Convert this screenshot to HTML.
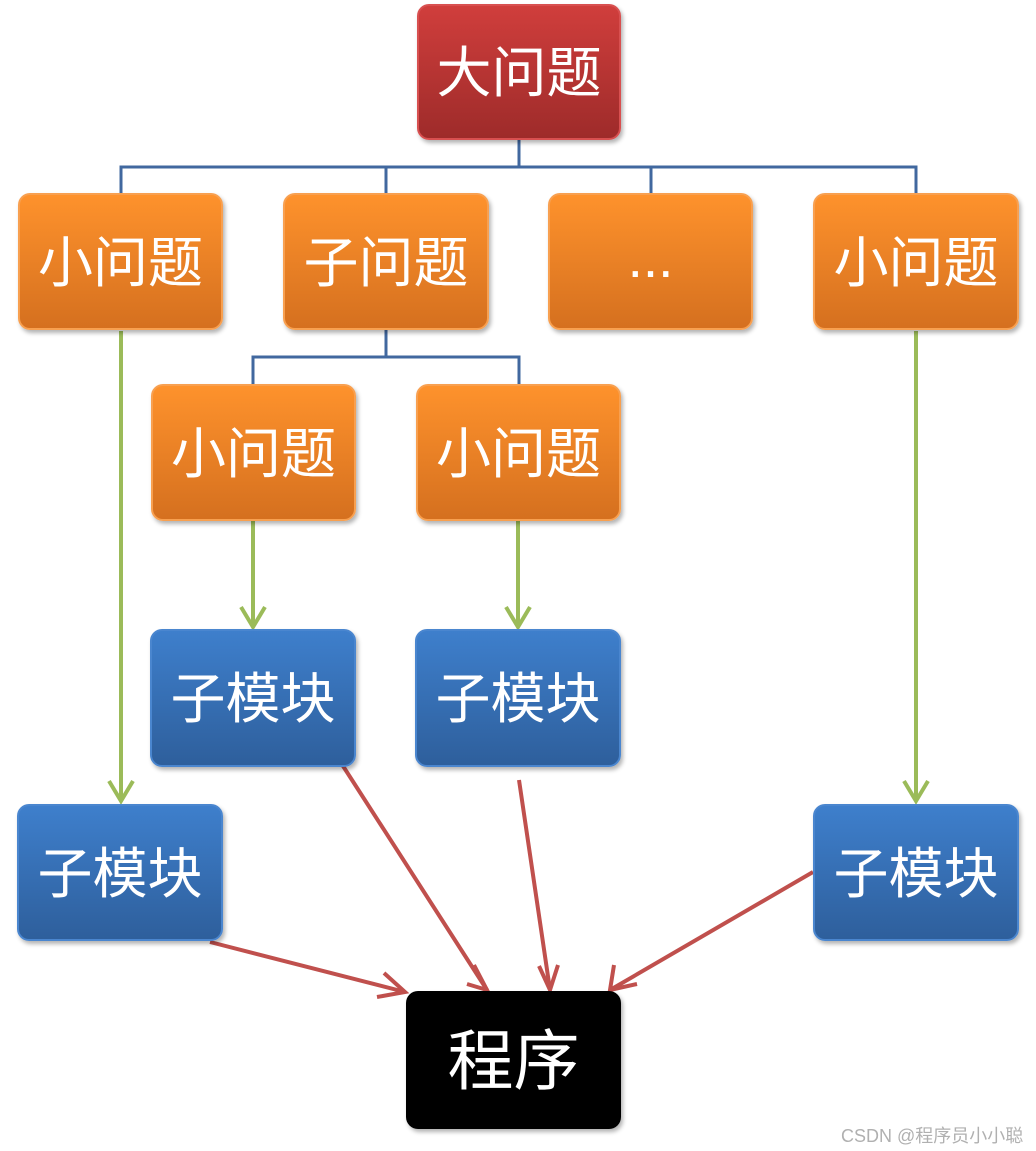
<!DOCTYPE html>
<html><head><meta charset="utf-8"><style>
body{margin:0;width:1036px;height:1151px;background:#fff;position:relative;overflow:hidden;font-family:"Liberation Sans","Noto Sans CJK SC",sans-serif}
.b{position:absolute;border-radius:12px;color:#fff;display:flex;align-items:center;justify-content:center;font-size:55px;box-shadow:2px 3px 4px rgba(0,0,0,.3);box-sizing:border-box;padding-bottom:8px}
.o{background:linear-gradient(#fe922c,#d5701f);border:2px solid #f8a050}
.u{background:linear-gradient(#3e7fcc,#2e5f9c);border:2px solid #4a86cf}
.r{background:linear-gradient(#d03e3c,#9e2b2a);border:2px solid #d85050}
svg{position:absolute;left:0;top:0}
</style></head><body>
<svg width="1036" height="1151">
<g stroke="#41689f" stroke-width="3" fill="none">
<path d="M519 139V167M121 194V167H916V194M386 167V194M651 167V194"/>
<path d="M386 329V357M253 385V357H519V385"/>
</g>
<g stroke="#9bbb59" stroke-width="4" fill="none">
<path d="M121 331V801M253 521V627M518 521V627M916 331V801"/>
<path d="M109 781L121 801L133 781M241 607L253 627L265 607M506 607L518 627L530 607M904 781L916 801L928 781"/>
</g>
<g stroke="#c0504d" stroke-width="4" fill="none">
<path d="M210 942L405 992M343 766L487 990M519 780L550 990M813 872L610 990"/>
<path d="M384 973L405 992L377 997M474 965L487 990L467 984M539 966L550 990L558 965M614 965L610 990L637 984"/>
</g>
</svg>
<div class="b r" style="left:417px;top:4px;width:204px;height:136px">大问题</div>
<div class="b o" style="left:18px;top:193px;width:205px;height:137px">小问题</div>
<div class="b o" style="left:283px;top:193px;width:206px;height:137px">子问题</div>
<div class="b o" style="left:548px;top:193px;width:205px;height:137px">...</div>
<div class="b o" style="left:813px;top:193px;width:206px;height:137px">小问题</div>
<div class="b o" style="left:151px;top:384px;width:205px;height:137px">小问题</div>
<div class="b o" style="left:416px;top:384px;width:205px;height:137px">小问题</div>
<div class="b u" style="left:150px;top:629px;width:206px;height:138px">子模块</div>
<div class="b u" style="left:415px;top:629px;width:206px;height:138px">子模块</div>
<div class="b u" style="left:17px;top:804px;width:206px;height:137px">子模块</div>
<div class="b u" style="left:813px;top:804px;width:206px;height:137px">子模块</div>
<div class="b" style="left:406px;top:991px;width:215px;height:138px;background:#000;font-size:66px">程序</div>
<div style="position:absolute;left:841px;top:1122px;font-size:18px;color:#b0b0b0">CSDN @程序员小小聪</div>
</body></html>
